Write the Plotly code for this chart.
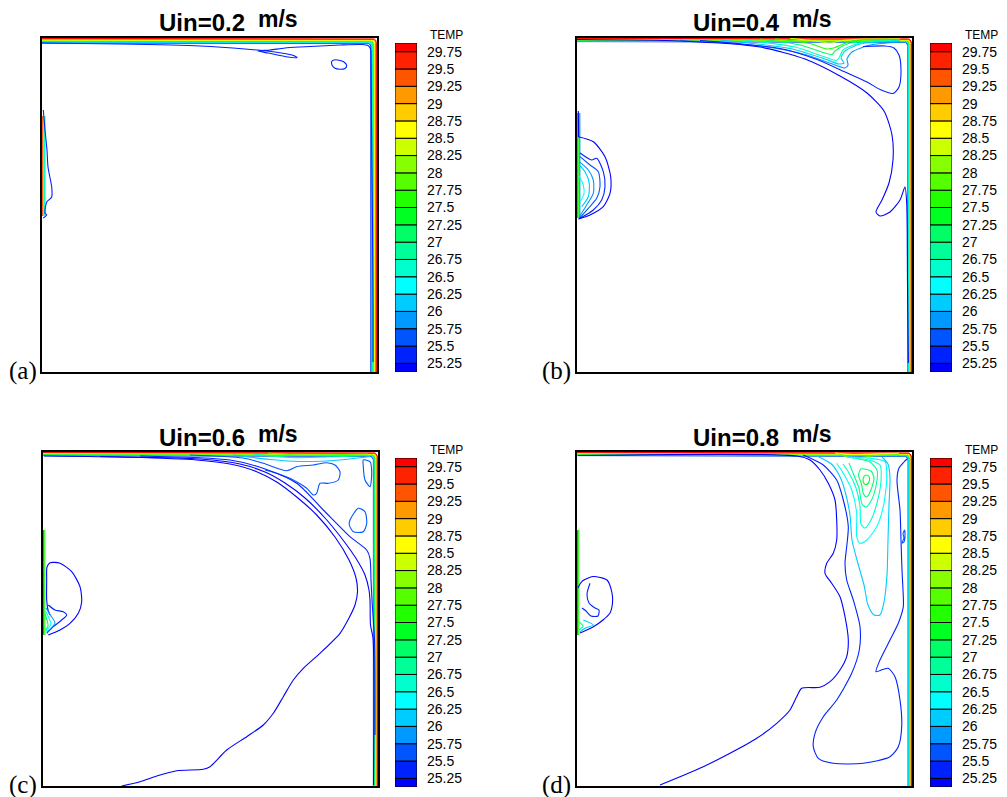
import math
import plotly.graph_objects as go

FIG_W, FIG_H = 1007, 797

# ------------------------------------------------------------------ data
TITLES = ["Uin=0.2", "Uin=0.4", "Uin=0.6", "Uin=0.8"]
UNIT = "m/s"
PANEL_TAGS = ["(a)", "(b)", "(c)", "(d)"]
CB_TITLE = "TEMP"
CB_LEVELS = [25.25, 25.5, 25.75, 26.0, 26.25, 26.5, 26.75, 27.0, 27.25, 27.5,
             27.75, 28.0, 28.25, 28.5, 28.75, 29.0, 29.25, 29.5, 29.75]
CB_LABELS = ["25.25", "25.5", "25.75", "26", "26.25", "26.5", "26.75", "27", "27.25",
             "27.5", "27.75", "28", "28.25", "28.5", "28.75", "29", "29.25", "29.5", "29.75"]
CB_BOUNDS = [25.125] + CB_LEVELS + [29.875]
CB_COLORS = ["#0000FF", "#0022FF", "#0055FF", "#0099FF", "#00CCFF", "#00FFFF", "#00FFCC",
             "#00FF99", "#00FF66", "#00FF22", "#22FF00", "#55FF00", "#88FF00", "#CCFF00",
             "#FFFF00", "#FFCC00", "#FF9900", "#FF5500", "#FF2200", "#FF0000"]

# room size (arbitrary length units) and isotherm levels of the wall layers
ROOM_W, ROOM_H = 335, 334
BAND_LEVELS = [29.9, 29.5, 29.0, 28.75, 28.5, 28.0, 27.5, 27.0, 26.5, 26.25, 26.0, 25.5]

# ---- (a) Uin = 0.2
A_TOP_OFF = [0.4, 0.9, 1.3, 1.7, 2.1, 2.5, 2.9, 3.3, 3.7, 4.1, 4.5, 5.0]
A_RIGHT_OFF = [0.6, 1.1, 1.6, 2.1, 2.6, 3.1, 3.6, 4.1, 4.6, 5.1, 5.6, 6.2]
A_STRIP_LEVELS = [29.9, 28.75, 28.0, 27.25, 26.5]
A_STRIP_OFF = [0.6, 1.2, 1.8, 2.4, 3.0]
A_STRIP_Y = [156, 256]
A_TONGUE = [(0, 329), (78, 328), (158, 326), (203, 323), (233, 320), (250, 317), (255, 314.5),
            (246, 315), (226, 319), (216, 321), (228, 322), (243, 324), (258, 325), (298, 327),
            (320, 327.5), (326, 326.5), (328.5, 323), (329, 312), (329.5, 250), (330.5, 150),
            (331, 60), (331, 10)]
A_ELLIPSE = [(289.7, 310.5), (292, 312), (297, 311.8), (302, 310), (304.7, 306.5), (303, 303.5),
             (298, 302.7), (292.5, 304), (290, 307), (289.7, 310.5)]
A_INLET = [(1.3, 262), (3, 242), (5, 222), (6, 205), (9.7, 185), (9.7, 175), (4.7, 170),
           (3, 159), (4.7, 157), (1.3, 154)]

# ---- (b) Uin = 0.4
B_TOP_OFF = [0.3, 0.6, 0.9, 1.2, 1.5, 1.8, 2.1, 2.4, 2.7, 3.0, 3.3, 3.6]
B_RIGHT_OFF = [0.5, 0.9, 1.3, 1.6, 1.9, 2.2, 2.5, 2.8, 3.1, 3.4, 3.7, 4.1]
B_STRIP_LEVELS = [29.9, 28.75, 27.75, 26.75, 26.0]
B_STRIP_OFF = [0.5, 1.1, 1.7, 2.3, 2.9]
B_STRIP_Y = [154, 259]
B_ARC = [(0, 332.5), (103, 331), (183, 325), (228, 313), (263, 296), (290, 279), (307, 261),
         (315, 237), (316, 212), (312, 189), (305, 172), (299, 160), (303, 156), (313, 160),
         (323, 172), (328, 185), (329.7, 169), (330.5, 90), (331.3, 9)]
B_LOOP = [(123, 331.5), (203, 323.5), (240, 312.5), (268, 300), (290, 290), (303, 282.5),
          (316, 278.5), (322, 285), (324, 302), (322, 317), (317, 324), (308, 326), (286, 325.5)]
B_FAN_260 = [(103, 331.8), (183, 326), (228, 317.5), (258, 307), (268, 304), (271, 307),
             (270, 313), (275, 320), (293, 327), (323, 330)]
B_FAN_2625 = [(143, 332), (213, 323.5), (248, 313), (262, 308), (267, 309), (264, 314),
              (268, 321), (283, 328), (323, 331)]
B_FAN_2675 = [(163, 332.5), (218, 325), (245, 316), (259, 311.5), (262, 314), (266, 322),
              (285, 329.5), (320, 331.5)]
B_FAN_2725 = [(183, 333), (223, 327), (248, 319), (255, 317.5), (258, 321), (270, 328),
              (300, 331.5), (323, 332.2)]
B_FAN_2775 = [(198, 333.3), (233, 328.5), (250, 323), (258, 324.5), (275, 331), (313, 332.6)]
B_FAN_285 = [(213, 333.7), (238, 331), (253, 329), (265, 331.5), (290, 333), (323, 333.3)]
B_IN1 = [(1.3, 235.3), (16.3, 230.3), (28, 215.3), (33.7, 195.3), (33, 178.7), (26.3, 165.3),
         (13, 157), (1.3, 153)]
B_IN2 = [(3, 219), (14.7, 212), (19.7, 213.7), (26.3, 200.3), (28, 185.3), (24.7, 172),
         (16.3, 162), (3, 153.7)]
B_IN3 = [(3, 215.3), (13, 207), (21.3, 200.3), (23, 185.3), (19.7, 173.7), (11.3, 163.7),
         (2.3, 153.7)]
B_IN4 = [(2.3, 210.3), (11.3, 202), (16.3, 192), (16.3, 178.7), (9.7, 167), (2.3, 155.3)]
B_IN5 = [(2.3, 207), (8, 200.3), (12.3, 188.7), (11.3, 175.3), (4.7, 165.3)]
B_IN6 = [(2, 196), (6, 188), (7, 178), (3, 170)]
B_WALL = [(1.3, 261), (1.5, 248), (1.6, 235)]

# ---- (c) Uin = 0.6
C_TOP_OFF = [0.3, 0.6, 0.9, 1.2, 1.5, 1.8, 2.1, 2.4, 2.7, 3.0, 3.3, 3.6]
C_RIGHT_OFF = [0.5, 0.9, 1.3, 1.7, 2.1, 2.5, 2.9, 3.3, 3.6, 3.9, 4.2, 4.6]
C_STRIP_LEVELS = [29.9, 28.5, 27.5]
C_STRIP_OFF = [0.5, 1.2, 1.8]
C_STRIP_Y = [151, 256]
C_ARC1 = [(1, 330), (87, 328.7), (153.7, 326), (187, 322), (213.7, 314.3), (233.7, 304),
          (253.7, 289), (273.7, 271), (292, 249), (306, 226), (313, 208), (314.5, 194),
          (312, 181), (306, 168), (297, 152.7), (277, 132.7), (260.3, 117.7), (250.3, 106),
          (240.3, 89.3), (230.3, 72.7), (220.3, 61), (203.7, 49.3), (183.7, 36), (167, 19.3),
          (160.3, 16.7), (133.7, 15.3), (113.7, 10), (97, 4.3), (78.7, 0)]
C_ARC2 = [(57, 329.5), (157, 327), (197, 322), (222, 314), (242, 303), (262, 288), (282, 268),
          (300, 246), (314, 226), (322, 211), (326, 196), (327, 186), (327.5, 161), (330, 148),
          (330.5, 1)]
C_ARC3 = [(97, 330), (187, 326), (220, 317.7), (253.7, 302.7), (280.3, 276), (307, 249.3),
          (323.7, 236), (327, 227.7), (328, 206), (329, 186), (331.5, 146), (332, 51)]
C_BLOB = [(147, 331), (200, 328), (220.3, 322.7), (243.7, 315.3), (253.7, 319.3), (270.3, 321),
          (283.7, 323.3), (292, 321), (297, 314.3), (295.3, 306), (285.3, 302.7), (277, 302.7),
          (273.7, 292.7), (270.3, 291), (263.7, 297.7), (250.3, 306), (233.7, 312.7), (222, 316)]
C_ELL1 = [(320.3, 326), (327, 324.3), (328.7, 312.7), (327, 299.3), (322, 306), (320.3, 319.3),
          (320.3, 326)]
C_ELL2 = [(307, 266), (315.3, 277.7), (322, 274.3), (323.7, 262.7), (320.3, 254.3),
          (310.3, 254.3), (306.3, 261), (307, 266)]
C_FAN1 = [(190, 331), (227, 326.5), (257, 324.5), (297, 326), (327, 329.5)]
C_FAN2 = [(210, 332), (247, 328.5), (287, 329), (322, 330.5)]
C_FAN3 = [(225, 333), (260, 331), (300, 331.5), (325, 332)]
C_INLET = [(5.3, 151), (17, 156), (27, 162.7), (35.3, 172.7), (38.7, 184.3), (37, 199.3),
           (28.7, 214.3), (17, 222.7), (7, 223.3), (4, 219), (3.7, 206), (3.7, 186), (5, 176),
           (7, 171)]
C_TONGUE = [(5.3, 181), (12, 176), (20.3, 174.3), (23.7, 171), (18.7, 166), (10.3, 159.3),
            (3.7, 152.7)]
C_IN_260 = [(3, 178), (8, 170), (12, 163), (4, 154)]
C_IN_265 = [(2.5, 175), (6, 168), (8, 162), (3, 155)]
C_IN_2725 = [(2, 172), (4, 166), (5, 160), (2.5, 156)]

# ---- (d) Uin = 0.8
D_TOP_OFF = [0.3, 0.6, 0.9, 1.2, 1.5, 1.8, 2.1, 2.4, 2.7, 3.0, 3.3, 3.6]
D_RIGHT_OFF = [0.5, 0.8, 1.1, 1.4, 1.7, 2.0, 2.3, 2.6, 2.9, 3.2, 3.5, 3.9]
D_STRIP_LEVELS = [29.9, 28.5, 27.5]
D_STRIP_OFF = [0.5, 1.2, 1.8]
D_STRIP_Y = [151, 256]
D_LINE1 = [(1.3, 330.5), (219.7, 330), (233, 326), (243, 316), (251.3, 302.7), (258, 286),
           (259.7, 266), (259.7, 246), (256.3, 232.7), (249.7, 222.7), (248, 212.7),
           (254.7, 202.7), (263, 189.3), (268, 169.3), (271.3, 146), (269.7, 129.3), (263, 116),
           (253, 104.3), (243, 98.7), (224.7, 97.7), (219.7, 89.3), (213, 76), (199.7, 62.7),
           (179.7, 47.7), (153, 32.7), (126.3, 19.3), (103, 9.3), (83, 1)]
D_LINE2 = [(226.3, 331), (246.3, 321), (259.7, 306), (266.3, 286), (271.3, 259.3),
           (269.7, 239.3), (268, 222.7), (269.7, 206), (276.3, 186), (283, 159.3), (282.3, 136),
           (274.7, 112.7), (259.7, 86), (246.3, 69.3), (238, 52.7), (236.3, 39.3), (241.3, 27.7),
           (256.3, 22.7), (286.3, 22.7), (313, 29.3), (321.3, 39.3), (324.7, 59.3), (323, 86),
           (318, 109.3), (311.3, 117.7), (306.3, 116.7), (299, 114.3), (303, 126), (313, 146),
           (321.3, 162.7), (326.3, 179.3), (326, 196), (325, 216), (324, 246), (323, 276),
           (320, 306), (322, 318), (327, 324), (330, 327)]
D_U = [(240, 330), (255, 321.5), (264, 307), (269, 291), (273, 271), (275, 246), (280, 226),
       (287, 201), (291, 181), (297, 171), (303, 171), (307, 184), (310, 211), (311, 246),
       (312, 281), (313, 308), (311, 322), (305, 329)]
D_TD1 = [(269.7, 329.3), (293, 327.7), (308, 324.3), (309.7, 306), (306.3, 279.3),
         (299.7, 259.3), (289.7, 246), (283, 242.7), (279.7, 249.3), (279.7, 272.7),
         (274.7, 296), (266.3, 312.7), (259.7, 322.7)]
D_TD2 = [(275, 328), (292, 326), (303, 321), (304, 305), (300, 283), (294, 266), (288, 258),
         (284, 262), (283, 280), (279, 298), (272, 313), (266, 322)]
D_TD3 = [(281, 327), (293, 324), (300, 316), (299, 300), (294, 285), (289, 279), (285, 282),
         (282, 298), (276, 313), (272, 323)]
D_TD4 = [(284, 317), (294, 315), (297, 308), (293.5, 295), (289.5, 289), (286.5, 292),
         (284.5, 302), (281.5, 311), (284, 317)]
D_TD5 = [(286, 306), (287, 309.5), (289.5, 311), (292, 309.5), (292.5, 306), (291, 302.5),
         (289, 301.5), (287, 302.5), (286, 306)]
D_FAN1 = [(262, 332), (272, 328.5), (282, 328.5), (300, 330.5), (322, 331.5)]
D_FAN2 = [(258, 333), (275, 331.5), (300, 332.2), (322, 332.7)]
D_INLET = [(1, 198), (3, 202), (6, 205.5), (16, 209.5), (30, 206), (35, 193), (35.5, 183),
           (33, 173), (26, 166), (16, 159), (3, 153)]
D_HOOK = [(13, 202.7), (10, 192), (12, 183), (18, 178), (22, 176), (21, 170), (14, 170),
          (9, 175), (5, 178)]
D_IN2 = [(6.3, 166), (16.3, 161), (8, 157.7), (3, 154.3)]
D_IN3 = [(2, 164), (6, 160), (2.5, 156)]
D_SQUIG = [(325, 243), (327, 248), (326, 252), (327.5, 256), (328, 250), (327, 244), (325, 243)]

PANELS = [
    dict(top=A_TOP_OFF, right=A_RIGHT_OFF, radius=4, strip_lv=A_STRIP_LEVELS,
         strip_off=A_STRIP_OFF, strip_y=A_STRIP_Y,
         curves=[(25.5, A_TONGUE), (25.5, A_ELLIPSE), (25.5, A_INLET)]),
    dict(top=B_TOP_OFF, right=B_RIGHT_OFF, radius=5, strip_lv=B_STRIP_LEVELS,
         strip_off=B_STRIP_OFF, strip_y=B_STRIP_Y,
         curves=[(28.5, B_FAN_285), (27.75, B_FAN_2775), (27.25, B_FAN_2725),
                 (26.75, B_FAN_2675), (26.25, B_FAN_2625), (26.0, B_FAN_260),
                 (25.5, B_LOOP), (25.25, B_ARC), (26.5, B_IN6), (26.25, B_IN5),
                 (26.0, B_IN4), (25.75, B_IN3), (25.5, B_IN2), (25.25, B_IN1),
                 (25.25, B_WALL)]),
    dict(top=C_TOP_OFF, right=C_RIGHT_OFF, radius=5, strip_lv=C_STRIP_LEVELS,
         strip_off=C_STRIP_OFF, strip_y=C_STRIP_Y,
         curves=[(28.0, C_FAN3), (27.0, C_FAN2), (26.25, C_FAN1), (25.75, C_BLOB),
                 (25.75, C_ELL1), (25.75, C_ELL2), (25.5, C_ARC3), (25.25, C_ARC2),
                 (25.25, C_ARC1), (25.25, C_INLET), (25.5, C_TONGUE), (26.0, C_IN_260),
                 (26.5, C_IN_265), (27.25, C_IN_2725)]),
    dict(top=D_TOP_OFF, right=D_RIGHT_OFF, radius=5, strip_lv=D_STRIP_LEVELS,
         strip_off=D_STRIP_OFF, strip_y=D_STRIP_Y,
         curves=[(28.75, D_FAN2), (28.0, D_FAN1), (27.5, D_TD5), (27.25, D_TD4),
                 (27.0, D_TD3), (26.75, D_TD2), (26.5, D_TD1), (26.25, D_U),
                 (25.5, D_LINE2), (25.25, D_LINE1), (25.75, D_SQUIG), (25.25, D_INLET),
                 (25.5, D_HOOK), (26.25, D_IN2), (27.0, D_IN3)]),
]

# ------------------------------------------------------------------ layout geometry (pixels)
PANEL_BOX = [(42, 38, 377, 372), (577, 38, 912, 372), (43, 452, 378, 786), (577, 452, 912, 786)]
CB_BOX = [(395, 43, 417, 372), (930, 43, 952, 372), (395, 458, 417, 787), (930, 458, 952, 787)]
TITLE_POS = [(157, 22), (691, 22), (157, 437), (691, 437)]
TAG_POS = [(7, 371), (540, 371), (7, 785), (540, 785)]


def pxx(p):
    return p / FIG_W


def pxy(p):
    return 1 - p / FIG_H


def line_color(level):
    if level > CB_LEVELS[-1]:
        return CB_COLORS[-1]
    k = min(range(len(CB_LEVELS)), key=lambda j: abs(CB_LEVELS[j] - level))
    return CB_COLORS[k]


def wall_layer(d, e, r):
    xs, ys = [0.0], [ROOM_H - d]
    cx, cy = ROOM_W - e - r, ROOM_H - d - r
    for a in range(90, -1, -15):
        t = math.radians(a)
        xs.append(cx + r * math.cos(t))
        ys.append(cy + r * math.sin(t))
    xs.append(ROOM_W - e)
    ys.append(0.0)
    return xs, ys


fig = go.Figure()
FONT = "Liberation Sans, Arial, sans-serif"
layout = dict(width=FIG_W, height=FIG_H, margin=dict(l=0, r=0, t=0, b=0),
              paper_bgcolor="white", plot_bgcolor="white", showlegend=False)
annotations = []

for i, P in enumerate(PANELS):
    n = i + 1
    xa, ya = ("x", "y") if n == 1 else (f"x{n}", f"y{n}")
    # wall boundary layers (top + right walls), drawn from the innermost outwards
    for lv, d, e in reversed(list(zip(BAND_LEVELS, P["top"], P["right"]))):
        xs, ys = wall_layer(d, e, P["radius"])
        fig.add_trace(go.Scatter(x=xs, y=ys, mode="lines", xaxis=xa, yaxis=ya,
                                 line=dict(color=line_color(lv), width=1),
                                 hoverinfo="skip"))
    # inlet strip on the left wall
    for lv, off in zip(P["strip_lv"], P["strip_off"]):
        fig.add_trace(go.Scatter(x=[off, off], y=P["strip_y"], mode="lines", xaxis=xa, yaxis=ya,
                                 line=dict(color=line_color(lv), width=1), hoverinfo="skip"))
    # isotherms
    for lv, pts in P["curves"]:
        fig.add_trace(go.Scatter(x=[p[0] for p in pts], y=[p[1] for p in pts], mode="lines",
                                 xaxis=xa, yaxis=ya,
                                 line=dict(color=line_color(lv), width=1.1, shape="spline",
                                           smoothing=0.7),
                                 hoverinfo="skip"))
    l, t, r, b = PANEL_BOX[i]
    ax = dict(showgrid=False, zeroline=False, showticklabels=False, ticks="",
              showline=True, mirror=True, linecolor="black", linewidth=1.5)
    layout["xaxis" if n == 1 else f"xaxis{n}"] = dict(ax, domain=[pxx(l), pxx(r)],
                                                       range=[0, ROOM_W], anchor=ya)
    layout["yaxis" if n == 1 else f"yaxis{n}"] = dict(ax, domain=[pxy(b), pxy(t)],
                                                       range=[0, ROOM_H], anchor=xa)

    # colour legend
    m = n + 4
    cxa, cya = f"x{m}", f"y{m}"
    fig.add_trace(go.Bar(x=[0] * len(CB_COLORS),
                         y=[CB_BOUNDS[k + 1] - CB_BOUNDS[k] for k in range(len(CB_COLORS))],
                         base=CB_BOUNDS[:-1], width=1, xaxis=cxa, yaxis=cya,
                         marker=dict(color=CB_COLORS, line=dict(color="black", width=1)),
                         hoverinfo="skip"))
    cl, ct, cr, cb = CB_BOX[i]
    layout[f"xaxis{m}"] = dict(domain=[pxx(cl), pxx(cr)], range=[-0.5, 0.5], visible=False,
                               anchor=cya)
    layout[f"yaxis{m}"] = dict(domain=[pxy(cb), pxy(ct)], range=[CB_BOUNDS[0], CB_BOUNDS[-1]],
                               anchor=cxa, side="right", tickvals=CB_LEVELS, ticktext=CB_LABELS,
                               showgrid=False, zeroline=False, showline=False, ticks="",
                               ticklabelstandoff=9,
                               tickfont=dict(family=FONT, size=14, color="black"))
    annotations.append(dict(text=CB_TITLE, x=pxx(cr + 11), y=pxy(ct - 8), xref="paper",
                            yref="paper", xanchor="left", yanchor="middle", showarrow=False,
                            font=dict(family=FONT, size=12, color="black")))
    # titles
    tx, ty = TITLE_POS[i]
    annotations.append(dict(text="<b>" + TITLES[i] + "</b>", x=pxx(tx), y=pxy(ty), xref="paper",
                            yref="paper", xanchor="left", yanchor="middle", showarrow=False,
                            font=dict(family=FONT, size=24, color="black")))
    annotations.append(dict(text="<b>" + UNIT + "</b>", x=pxx(tx + 99), y=pxy(ty - 3),
                            xref="paper", yref="paper", xanchor="left", yanchor="middle",
                            showarrow=False, font=dict(family=FONT, size=23, color="black")))
    gx, gy = TAG_POS[i]
    annotations.append(dict(text=PANEL_TAGS[i], x=pxx(gx), y=pxy(gy), xref="paper",
                            yref="paper", xanchor="left", yanchor="middle", showarrow=False,
                            font=dict(family="Liberation Serif, Times New Roman, serif",
                                      size=25, color="black")))

layout["annotations"] = annotations
fig.update_layout(**layout)
fig.write_html("out.html")
